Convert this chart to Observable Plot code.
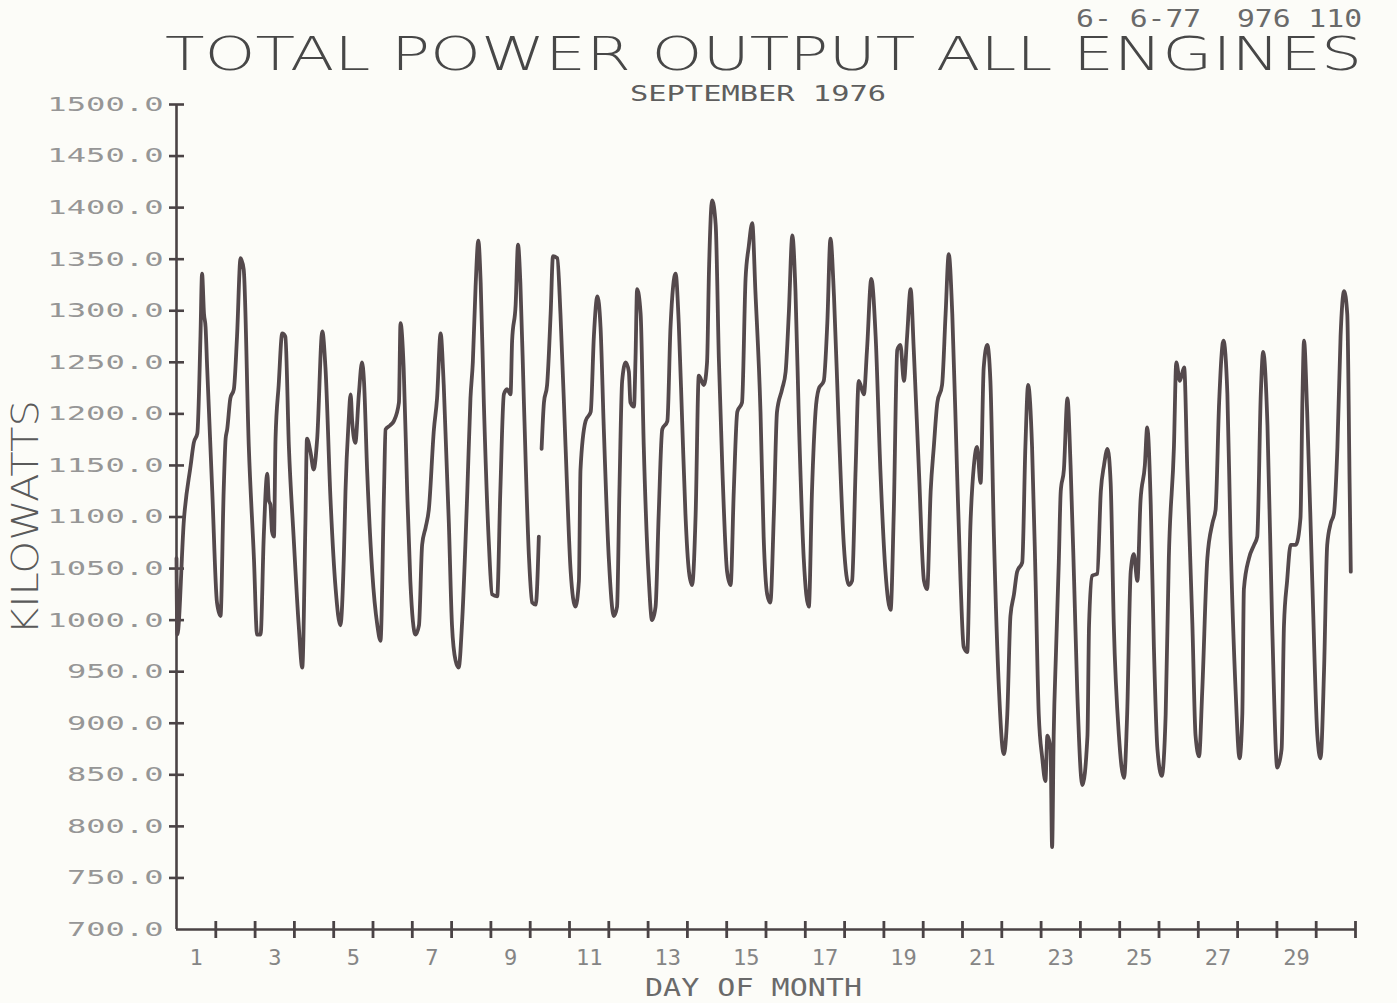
<!DOCTYPE html>
<html>
<head>
<meta charset="utf-8">
<script src="https://cdn.jsdelivr.net/npm/d3@7"></script>
<script src="https://cdn.jsdelivr.net/npm/@observablehq/plot@0.6"></script>
<style>
  html, body { margin: 0; padding: 0; background: #fcfcf8; }
  #wrap { position: relative; width: 1397px; height: 1003px; overflow: hidden; background: #fcfcf8; }
  #wrap > svg { position: absolute; left: 0; top: 0; }
  #overlay { pointer-events: none; }
  #overlay text { white-space: pre; }
</style>
</head>
<body>
<div id="wrap"></div>
<script>
// ---- data (time in days since 00:00 Sept 1, 1976; kilowatts) ----
const dayTime = [
 0.00,0.02,0.19,0.36,0.44,0.53,0.61,0.65,0.70,0.74,0.78,0.91,
 1.03,1.12,1.20,1.25,1.29,1.37,1.46,1.54,1.63,1.71,1.84,1.97,
 2.05,2.14,2.22,2.31,2.35,2.39,2.43,2.48,2.52,2.60,2.69,2.77,2.86,2.98,
 3.11,3.20,3.28,3.32,3.41,3.49,3.58,3.71,3.79,3.92,
 4.05,4.17,4.26,4.30,4.38,4.43,4.47,4.55,4.64,4.72,4.77,4.85,4.98,
 5.11,5.19,5.28,5.32,5.44,5.53,5.66,5.70,5.78,5.87,5.95,
 6.08,6.17,6.25,6.34,6.42,6.55,6.63,6.72,6.80,6.93,
 7.01,7.10,7.18,7.27,7.40,7.48,7.54,7.61,7.68,7.74,7.82,7.95,
 8.03,8.16,8.24,8.33,8.41,8.50,8.54,8.63,8.69,8.75,8.84,8.97,
 9.05,9.14,9.22,9.25,9.29,9.35,9.43,9.52,9.58,9.69,9.77,9.90,
 10.03,10.15,10.24,10.28,10.41,10.54,10.62,10.71,10.79,10.87,
 11.00,11.13,11.21,11.27,11.34,11.43,11.51,11.55,11.64,11.68,11.72,11.81,11.89,
 12.02,12.10,12.19,12.27,12.36,12.49,12.57,12.70,12.78,12.87,12.95,
 13.04,13.12,13.21,13.29,13.42,13.50,13.55,13.63,13.72,13.80,13.89,
 14.01,14.10,14.18,14.27,14.39,14.48,14.56,14.65,14.73,14.86,14.94,
 15.03,15.11,15.20,15.28,15.41,15.50,15.58,15.67,15.75,15.84,15.96,
 16.09,16.17,16.26,16.34,16.47,16.56,16.64,16.73,16.85,16.98,
 17.11,17.19,17.28,17.36,17.49,17.57,17.68,17.79,17.91,
 18.04,18.17,18.25,18.34,18.42,18.51,18.59,18.68,18.76,18.89,
 19.02,19.10,19.19,19.27,19.36,19.48,19.57,19.65,19.74,19.86,19.95,
 20.03,20.12,20.20,20.29,20.37,20.46,20.54,20.63,20.71,20.80,20.93,
 21.05,21.14,21.22,21.31,21.39,21.52,21.60,21.67,21.77,21.86,21.94,
 22.03,22.11,22.16,22.24,22.28,22.32,22.38,22.45,22.50,22.58,22.67,22.75,22.84,22.92,
 23.05,23.18,23.22,23.30,23.43,23.52,23.60,23.69,23.77,23.85,23.98,
 24.11,24.19,24.28,24.36,24.45,24.53,24.64,24.70,24.79,24.87,24.96,
 25.07,25.17,25.25,25.38,25.44,25.53,25.64,25.72,25.85,25.93,
 26.02,26.10,26.23,26.36,26.44,26.53,26.64,26.74,26.82,26.95,
 27.05,27.12,27.16,27.29,27.42,27.50,27.59,27.65,27.76,27.88,
 28.01,28.12,28.18,28.26,28.35,28.48,28.60,28.65,28.69,28.77,28.90,
 29.03,29.11,29.20,29.28,29.37,29.45,29.54,29.62,29.71,29.79,29.85,29.88
];
const kilowatts = [
 1060,986,1098,1150,1172,1181,1275,1336,1297,1284,1245,1125,
 1017,1004,1125,1176,1185,1215,1224,1275,1351,1340,1168,1060,
 986,986,1081,1142,1116,1112,1086,1081,1176,1228,1278,1275,1168,1081,
 995,954,1094,1176,1163,1146,1176,1280,1245,1116,
 1030,995,1064,1125,1193,1219,1193,1172,1219,1250,1232,1146,1047,
 995,980,1125,1185,1189,1193,1211,1288,1245,1125,1038,
 986,995,1073,1090,1107,1185,1215,1278,1228,1094,
 995,961,954,1000,1125,1215,1250,1323,1368,1327,1211,1073,
 1025,1023,1125,1219,1224,1219,1271,1306,1364,1327,1211,1060,
 1017,1015,1081,null,1166,1211,1228,1297,1353,1351,1297,1168,
 1047,1013,1038,1146,1193,1202,1275,1314,1284,1189,
 1060,1004,1013,1125,1232,1250,1241,1211,1207,1254,1321,1297,1168,
 1038,1000,1013,1103,1185,1193,1284,1336,1288,1189,1103,
 1047,1034,1103,1237,1228,1250,1340,1407,1383,1254,1146,
 1047,1034,1125,1202,1211,1331,1362,1385,1319,1202,1081,
 1025,1017,1103,1202,1224,1241,1297,1373,1319,1189,1060,
 1013,1125,1202,1224,1232,1288,1370,1314,1189,1073,
 1034,1038,1146,1232,1219,1262,1331,1275,1146,
 1047,1010,1103,1262,1267,1232,1275,1321,1262,1146,
 1038,1030,1125,1168,1211,1228,1297,1355,1297,1146,1038,
 974,969,1090,1150,1168,1133,1245,1267,1232,1081,931,
 870,909,1004,1025,1047,1056,1168,1228,1168,1038,909,
 866,844,888,875,780,888,970,1056,1125,1146,1215,1150,1038,931,
 840,888,995,1043,1045,1125,1150,1166,1133,995,888,
 847,909,1047,1064,1038,1116,1150,1187,1112,974,875,
 849,909,1060,1168,1250,1232,1245,1146,995,888,
 868,931,1060,1094,1107,1211,1271,1219,1081,931,
 866,909,1030,1060,1073,1081,1219,1260,1189,995,
 857,875,995,1038,1073,1073,1099,1215,1271,1202,1038,
 888,866,952,1073,1094,1103,1168,1275,1319,1297,1133,1047
];
const yTicks = [750,800,850,900,950,1000,1050,1100,1150,1200,1250,1300,1350,1400,1450,1500];
const yLabels = [700,750,800,850,900,950,1000,1050,1100,1150,1200,1250,1300,1350,1400,1450,1500];
const dayBoundaries = d3.range(1, 31);
const dayLabels = [1,3,5,7,9,11,13,15,17,19,21,23,25,27,29];

const ink = "#4a4345";
const labelGray = "#969696";

// "+"-style plotter tick marks that cross the axis line
const hTick = {draw(ctx, size) { const r = Math.sqrt(size / Math.PI); ctx.moveTo(-r, 0); ctx.lineTo(r, 0); }};
const vTick = {draw(ctx, size) { const r = Math.sqrt(size / Math.PI); ctx.moveTo(0, -r); ctx.lineTo(0, r); }};

const chart = Plot.plot({
  width: 1397,
  height: 1003,
  marginLeft: 176,
  marginRight: 42,
  marginTop: 104,
  marginBottom: 74,
  style: {background: "transparent", overflow: "visible"},
  x: {domain: [0, 30], label: null},
  y: {domain: [700, 1500], label: null},
  marks: [
    Plot.axisY(yLabels, {
      tickSize: 0, tickPadding: 13, label: null,
      tickFormat: d => d.toFixed(1),
      fill: labelGray, fontSize: 20, fontFamily: "DejaVu Sans Mono"
    }),
    Plot.axisX(dayLabels.map(d => d - 0.5), {
      tickSize: 0, tickPadding: 20, label: null,
      tickFormat: d => String(d + 0.5),
      fill: "#858585", fontSize: 22, fontFamily: "DejaVu Sans Mono"
    }),
    Plot.ruleX([0], {stroke: ink, strokeWidth: 2.6}),
    Plot.ruleY([700], {stroke: ink, strokeWidth: 2.6}),
    Plot.dot(yTicks, {y: d => d, frameAnchor: "left", symbol: hTick, r: 7.5,
      fill: "none", stroke: ink, strokeWidth: 2.6}),
    Plot.dot(dayBoundaries, {x: d => d, frameAnchor: "bottom", symbol: vTick, r: 8.5,
      fill: "none", stroke: ink, strokeWidth: 2.8}),
    Plot.line({length: dayTime.length}, {
      x: dayTime, y: kilowatts, curve: "monotone-x",
      stroke: "#54494c", strokeWidth: 3.8,
      strokeLinejoin: "round", strokeLinecap: "round"
    })
  ]
});

document.getElementById("wrap").appendChild(chart);

// widen the plotter-style y tick labels
d3.select(chart).selectAll('g[aria-label="y-axis tick label"] text').each(function() {
  const t = this.textContent;
  d3.select(this).attr("textLength", t.length * 19.7 - 2).attr("lengthAdjust", "spacingAndGlyphs");
});

// header and axis titles
const ov = d3.select("#wrap").append("svg")
  .attr("id", "overlay")
  .attr("width", 1397).attr("height", 1003);

function addText(txt, x, y, size, len, color, family, extra) {
  const el = ov.append("text")
    .attr("x", x).attr("y", y)
    .attr("font-size", size)
    .attr("font-family", family || "DejaVu Sans")
    .attr("fill", color)
    .attr("textLength", len)
    .attr("lengthAdjust", "spacingAndGlyphs")
    .attr("xml:space", "preserve")
    .text(txt);
  if (extra) extra(el);
  return el;
}
addText("6- 6-77  976 110", 1076, 27, 24, 286, "#6a6a6a", "DejaVu Sans Mono");
addText("TOTAL POWER OUTPUT ALL ENGINES", 165, 70, 47, 1197, "#474747", "DejaVu Sans", el => el.attr("font-weight", 200));
addText("SEPTEMBER 1976", 630, 101, 21, 256, "#5e5e5e", "DejaVu Sans Mono");
addText("DAY OF MONTH", 645, 996, 24, 217, "#6a6a6a", "DejaVu Sans Mono");
addText("KILOWATTS", 0, 0, 38, 235, "#5a5a5a", "DejaVu Sans", el =>
  el.attr("transform", "translate(38,635) rotate(-90)").attr("font-weight", 300));
</script>
</body>
</html>
